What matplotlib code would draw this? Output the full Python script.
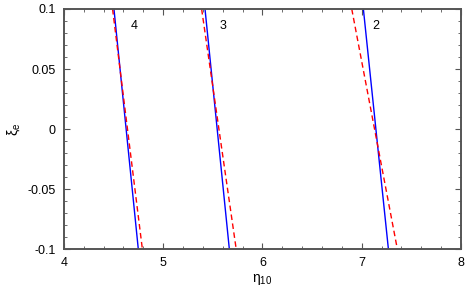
import matplotlib
matplotlib.use("Agg")
import matplotlib.pyplot as plt
from matplotlib.ticker import MultipleLocator, FuncFormatter

plt.rcParams['font.family'] = ['Liberation Sans', 'DejaVu Sans']
plt.rcParams['axes.unicode_minus'] = False
plt.rcParams['mathtext.fontset'] = 'custom'
plt.rcParams['mathtext.rm'] = 'Liberation Sans'
plt.rcParams['mathtext.it'] = 'Liberation Sans'

# xi_e endpoints of each curve
xi = [0.1, -0.1]
# solid (blue) curves: eta10 at xi=0.1 and xi=-0.1
blue_4 = [4.504, 4.749]
blue_3 = [5.421, 5.666]
blue_2 = [7.016, 7.268]
# dashed (red) curves
red_4 = [4.490, 4.790]
red_3 = [5.387, 5.735]
red_2 = [6.899, 7.358]

labels = ["4", "3", "2"]
label_x = [4.705, 5.60, 7.14]
label_y = 0.086

fig = plt.figure(figsize=(4.7, 2.97), dpi=100)
ax = fig.add_axes([0.136, 0.1616, 0.845, 0.8081])

for b in [blue_4, blue_3, blue_2]:
    ax.plot(b, xi, color='#0000ff', lw=1.0)
for r in [red_4, red_3, red_2]:
    ax.plot(r, xi, color='#ff0000', lw=1.0, ls=(0, (4, 2.5)))

for t, x in zip(labels, label_x):
    ax.text(x, label_y, t, fontsize=9, ha='center', va='center')

ax.set_xlim(4, 8)
ax.set_ylim(-0.1, 0.1)
ax.xaxis.set_major_locator(MultipleLocator(1))
ax.xaxis.set_minor_locator(MultipleLocator(0.2))
ax.yaxis.set_major_locator(MultipleLocator(0.05))
ax.yaxis.set_minor_locator(MultipleLocator(0.01))
ax.yaxis.set_major_formatter(FuncFormatter(lambda v, p: "0" if abs(v) < 1e-9 else ("%g" % v)))
ax.tick_params(which='both', direction='in', top=True, right=True, labelsize=9,
               color='#555555')
ax.tick_params(which='major', length=4, width=0.8, pad=6)
ax.tick_params(which='minor', length=2.5, width=0.6)
for s in ax.spines.values():
    s.set_color('#555555')
    s.set_linewidth(1.4)

ax.set_xlabel(r'$\eta_{10}$', fontsize=10, labelpad=2)
ax.set_ylabel(r'$\xi_e$', fontsize=10, labelpad=4)

fig.savefig('out.png', dpi=100)
